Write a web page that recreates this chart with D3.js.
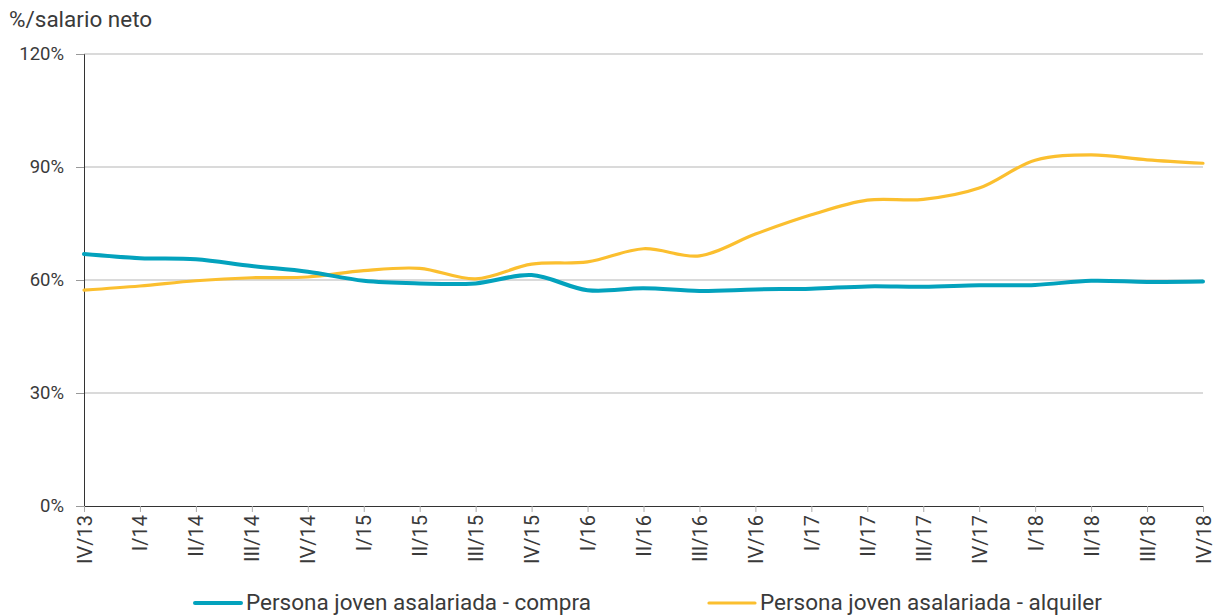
<!DOCTYPE html>
<html><head><meta charset="utf-8">
<script src="https://cdn.jsdelivr.net/npm/d3@7"></script>
<style>
html,body{margin:0;padding:0;background:#fff;}
text{font-family:Roboto,"Noto Sans",sans-serif;fill:#3a3a3a;}
</style></head>
<body><svg id="c" width="1218" height="616"></svg>
<script>
const categories = ["IV/13","I/14","II/14","III/14","IV/14","I/15","II/15","III/15","IV/15","I/16","II/16","III/16","IV/16","I/17","II/17","III/17","IV/17","I/18","II/18","III/18","IV/18"];
const compra = [66.9,65.8,65.5,63.7,62.2,59.8,59.1,59.1,61.3,57.3,57.8,57.1,57.5,57.7,58.3,58.2,58.6,58.7,59.8,59.5,59.6];
const alquiler = [57.3,58.4,59.8,60.6,60.8,62.5,63.1,60.3,64.2,64.8,68.3,66.4,72.2,77.3,81.2,81.4,84.4,91.8,93.2,91.9,91.0];
const yTicks = [0,30,60,90,120];
const seriesNames = ["Persona joven asalariada - compra","Persona joven asalariada - alquiler"];
const colors = ["#03a2bd","#fbbf2f"];

const svg = d3.select("#c");
const L=84, R=1203, T=54, B=506;
const x = d3.scalePoint().domain(categories).range([L,R]);
const y = d3.scaleLinear().domain([0,120]).range([B,T]);

svg.append("text").attr("x",9).attr("y",27).attr("font-size",22.5).text("%/salario neto");

// gridlines
svg.append("g").selectAll("line").data(yTicks.filter(d=>d>0)).join("line")
  .attr("x1",L).attr("x2",R).attr("y1",d=>y(d)).attr("y2",d=>y(d))
  .attr("stroke","#b5b5b5").attr("stroke-width",1);

// y axis
const ya = svg.append("g").attr("transform",`translate(${L},0)`)
  .call(d3.axisLeft(y).tickValues(yTicks).tickFormat(d=>d+"%").tickSize(8).tickPadding(12));
ya.select(".domain").attr("stroke","#333");
ya.selectAll(".tick line").attr("stroke","#999");
ya.selectAll("text").attr("font-size",18.5).attr("fill","#3a3a3a").style("font-family","Roboto,sans-serif");

// x axis
const xa = svg.append("g").attr("transform",`translate(0,${B})`)
  .call(d3.axisBottom(x).tickSize(6).tickSizeOuter(0));
xa.select(".domain").attr("stroke","#333");
xa.selectAll(".tick line").attr("stroke","#aaa");
xa.selectAll("text").attr("font-size",20).attr("fill","#3a3a3a").style("font-family","Roboto,sans-serif")
  .attr("transform","rotate(-90)").attr("text-anchor","end").attr("x",-9).attr("y",0).attr("dy","0.35em");

const line = d3.line().x((d,i)=>x(categories[i])).y(d=>y(d)).curve(d3.curveCatmullRom.alpha(0.5));
svg.append("path").datum(alquiler).attr("d",line).attr("fill","none").attr("stroke",colors[1]).attr("stroke-width",3.2).attr("stroke-linecap","round");
svg.append("path").datum(compra).attr("d",line).attr("fill","none").attr("stroke",colors[0]).attr("stroke-width",4).attr("stroke-linecap","round");

// legend
const leg = [{x:195,w:4},{x:709,w:3.2}];
seriesNames.forEach((n,i)=>{
  const g = svg.append("g");
  g.append("line").attr("x1",leg[i].x).attr("x2",leg[i].x+46).attr("y1",603).attr("y2",603)
    .attr("stroke",colors[i]).attr("stroke-width",leg[i].w).attr("stroke-linecap","round");
  g.append("text").attr("x",leg[i].x+51).attr("y",610).attr("font-size",22.5).text(n);
});
</script></body></html>
